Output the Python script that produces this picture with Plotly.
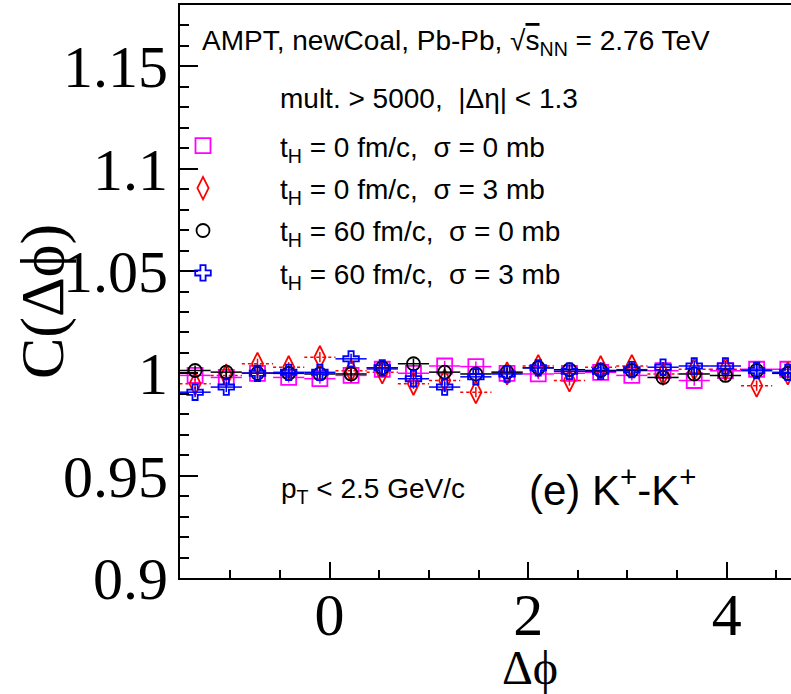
import numpy as np
import plotly.graph_objects as go

# ---- data ----
dphi = [-1.354 + k * np.pi / 10 for k in range(20)]
half_bin = np.pi / 20

c_t0_s0 = [0.9990, 0.9980, 1.0000, 0.9980, 0.9974, 0.9990, 1.0020, 1.0000, 1.0036, 1.0033,
           1.0000, 0.9997, 1.0000, 1.0005, 0.9990, 1.0013, 0.9965, 1.0013, 1.0020, 1.0020]
c_t0_s3 = [0.9949, 0.9990, 1.0047, 1.0030, 1.0079, 1.0013, 1.0005, 0.9949, 0.9965, 0.9908,
           1.0000, 1.0036, 0.9965, 1.0030, 1.0036, 0.9997, 1.0020, 1.0020, 0.9940, 1.0000]
c_t60_s0 = [1.0014, 1.0006, 1.0000, 1.0000, 0.9997, 0.9997, 1.0027, 1.0047, 1.0006, 0.9997,
            1.0006, 1.0027, 1.0018, 1.0014, 1.0014, 0.9980, 0.9997, 0.9990, 1.0014, 1.0000]
c_t60_s3 = [0.9908, 0.9933, 1.0000, 1.0005, 1.0005, 1.0071, 1.0027, 0.9974, 0.9933, 0.9983,
            0.9997, 1.0027, 1.0010, 1.0010, 1.0018, 1.0030, 1.0036, 1.0036, 1.0014, 1.0005]
err = [0.0025] * 20

names = ["t<sub>H</sub> = 0 fm/c,\u00a0 σ = 0 mb",
         "t<sub>H</sub> = 0 fm/c,\u00a0 σ = 3 mb",
         "t<sub>H</sub> = 60 fm/c,\u00a0 σ = 0 mb",
         "t<sub>H</sub> = 60 fm/c,\u00a0 σ = 3 mb"]
series = [c_t0_s0, c_t0_s3, c_t60_s0, c_t60_s3]
colors = ["#ff00ff", "#ff0000", "#000000", "#0000ff"]
symbols = ["square-open", "diamond-tall-open", "circle-open", "cross-open"]
sizes = [15, 16, 13, 13]

fig = go.Figure()

# red dotted horizontal bin-width bars
xs, ys = [], []
for x, y in zip(dphi, c_t0_s3):
    xs += [x - half_bin, x + half_bin, None]
    ys += [y, y, None]
fig.add_trace(go.Scatter(x=xs, y=ys, mode="lines", showlegend=False, hoverinfo="skip",
                         line=dict(color="#ff0000", width=1.5, dash="dot")))

for i, (nm, s) in enumerate(zip(names, series)):
    ex = dict(type="constant", value=half_bin, width=0, thickness=1.5, color=colors[i],
              visible=(i != 1))
    fig.add_trace(go.Scatter(
        x=dphi, y=s, mode="markers", name=nm, legendgroup=str(i),
        marker=dict(symbol=symbols[i], size=sizes[i], color=colors[i],
                    line=dict(color=colors[i], width=1.8)),
        error_x=ex,
        error_y=dict(type="data", array=err, width=0, thickness=1.5, color=colors[i]),
    ))

serif = "Liberation Serif"
sans = "Liberation Sans"

fig.update_layout(
    width=791, height=694,
    margin=dict(l=180, r=0, t=5, b=116),
    paper_bgcolor="white", plot_bgcolor="white",
    showlegend=True,
    legend=dict(x=(126 - 180) / 611, y=(578 - 121) / 573, xanchor="left", yanchor="top",
                font=dict(family=sans, size=28, color="black"),
                bgcolor="rgba(0,0,0,0)", itemwidth=144, tracegroupgap=3,
                traceorder="grouped"),
    xaxis=dict(range=[-1.506, 4.647], tick0=0, dtick=2, ticks="inside", ticklen=16,
               tickwidth=2, tickcolor="black", showline=True, linewidth=2, linecolor="black",
               mirror=True, showgrid=False, zeroline=False,
               tickfont=dict(family=serif, size=60, color="black"), ticklabelstandoff=-17,
               minor=dict(dtick=0.5, ticks="inside", ticklen=8, tickwidth=1.5,
                          tickcolor="black", showgrid=False)),
    yaxis=dict(range=[0.9, 1.18], tick0=0.9, dtick=0.05, ticks="inside", ticklen=18,
               tickwidth=2, tickcolor="black", showline=True, linewidth=2, linecolor="black",
               mirror=False, showgrid=False, zeroline=False,
               tickfont=dict(family=serif, size=60, color="black"), ticklabelstandoff=-2,
               minor=dict(dtick=0.01, ticks="inside", ticklen=9, tickwidth=1.5,
                          tickcolor="black", showgrid=False)),
)

ann = [
    dict(text="C(Δϕ)", x=(43 - 180) / 611, y=(578 - 302) / 573, textangle=-90,
         font=dict(family=serif, size=62)),
    dict(text="Δϕ", x=(530 - 180) / 611, y=(578 - 667) / 573, font=dict(family=serif, size=48)),
    dict(text="AMPT, newCoal, Pb-Pb, √<span style='text-decoration:overline'>s</span><sub>NN</sub> = 2.76 TeV",
         x=(200 - 180) / 611, y=(578 - 42) / 573, xanchor="left", font=dict(family=sans, size=28)),
    dict(text="mult. > 5000,\u00a0 |Δη| < 1.3", x=(278 - 180) / 611, y=(578 - 98) / 573,
         xanchor="left", font=dict(family=sans, size=28)),
    dict(text="p<sub>T</sub> < 2.5 GeV/c", x=(279 - 180) / 611, y=(578 - 490) / 573,
         xanchor="left", font=dict(family=sans, size=28)),
    dict(text="(e) K<sup>+</sup>-K<sup>+</sup>", x=(527 - 180) / 611, y=(578 - 487) / 573,
         xanchor="left", font=dict(family=sans, size=42)),
]
for a in ann:
    a.update(xref="paper", yref="paper", showarrow=False, yanchor="middle")
    a.setdefault("xanchor", "center")
    a["font"]["color"] = "black"
fig.update_layout(annotations=ann)

fig.write_html("out.html")
